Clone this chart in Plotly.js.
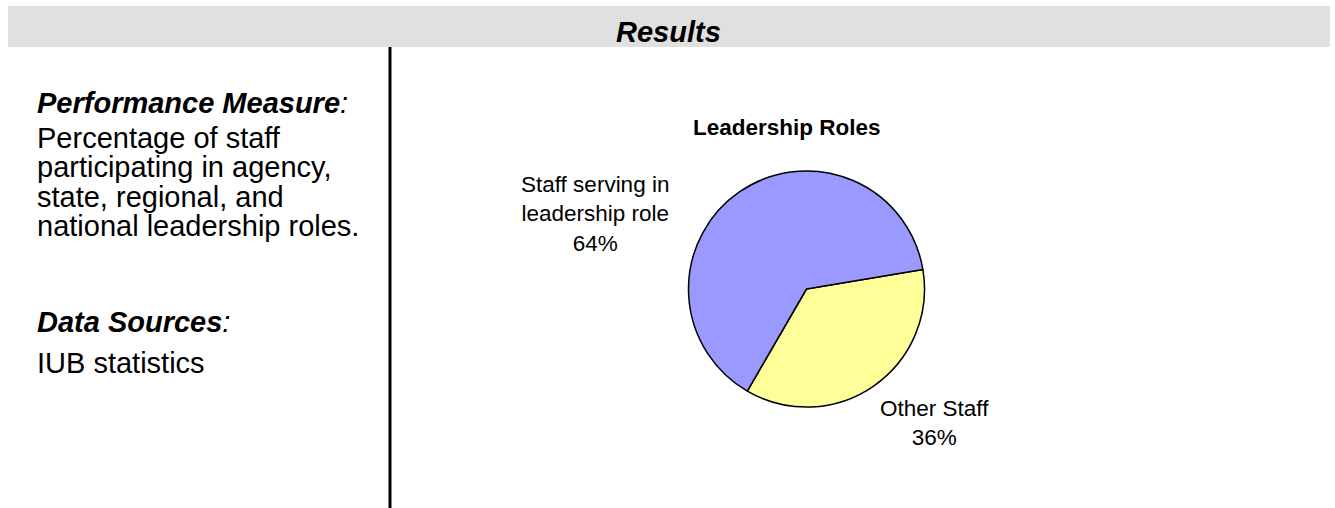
<!DOCTYPE html>
<html>
<head>
<meta charset="utf-8">
<script src="https://cdn.plot.ly/plotly-3.0.1.min.js"></script>
<style>
  html, body { margin: 0; padding: 0; background: #ffffff; }
  #chart { width: 1335px; height: 508px; }
</style>
</head>
<body>
<div id="chart"></div>
<script>
// ---- data ----
const categories = ['Other Staff', 'Staff serving in leadership role'];
const displayLabels = ['Other Staff', 'Staff serving in<br>leadership role'];
const values = [36, 64];
const sliceColors = ['#FFFF99', '#9999FF'];
const chartTitle = 'Leadership Roles';
const headerText = 'Results';
const measureHeading = 'Performance Measure';
const measureLines = ['Percentage of staff', 'participating in agency,', 'state, regional, and', 'national leadership roles.'];
const sourceHeading = 'Data Sources';
const sourceLines = ['IUB statistics'];

// ---- layout helpers (pixel -> paper) ----
const W = 1335, H = 508;
const px = x => x / W;
const py = y => 1 - y / H;
const FONT = 'Arial, "Liberation Sans", sans-serif';

const cx = 806.5, cy = 289, r = 118;

const trace = {
  type: 'pie',
  labels: categories,
  values: values,
  sort: false,
  direction: 'clockwise',
  rotation: 80.5,
  textinfo: 'none',
  hoverinfo: 'label+percent',
  marker: { colors: sliceColors, line: { color: '#000000', width: 1.5 } },
  domain: { x: [px(cx - r), px(cx + r)], y: [py(cy + r), py(cy - r)] },
  showlegend: false
};

const annotations = [];
function addText(text, x, y, size, xanchor, extra) {
  annotations.push(Object.assign({
    text: text, x: px(x), y: py(y), xref: 'paper', yref: 'paper',
    xanchor: xanchor, yanchor: 'middle', showarrow: false,
    font: { family: FONT, size: size, color: '#000000' }
  }, extra || {}));
}

// header
addText('<b><i>' + headerText + '</i></b>', 668, 32, 29, 'center');
// left panel
const LEFT = 35, LF = 29;
addText('<b><i>' + measureHeading + '</i></b><i>:</i>', LEFT, 103, LF, 'left');
const measureY = [138, 167, 197, 226];
measureLines.forEach((t, i) => addText(t, LEFT, measureY[i], LF, 'left'));
addText('<b><i>' + sourceHeading + '</i></b><i>:</i>', LEFT, 322, LF, 'left');
sourceLines.forEach((t, i) => addText(t, LEFT, 363 + i * 29.5, LF, 'left'));
// chart title
addText('<b>' + chartTitle + '</b>', 787, 127, 22.5, 'center');
// slice labels
const labelPos = [[934, 423], [595, 214]];
categories.forEach((c, i) => {
  addText(displayLabels[i] + '<br>' + values[i] + '%', labelPos[i][0], labelPos[i][1], 22.5, 'center');
});

const layout = {
  width: W, height: H,
  margin: { l: 0, r: 0, t: 0, b: 0 },
  paper_bgcolor: '#ffffff',
  plot_bgcolor: '#ffffff',
  shapes: [
    { type: 'rect', xref: 'paper', yref: 'paper', x0: px(8), x1: px(1330), y0: py(47), y1: py(6),
      fillcolor: '#e0e0e0', line: { width: 0 }, layer: 'below' },
    { type: 'line', xref: 'paper', yref: 'paper', x0: px(390), x1: px(390), y0: py(47), y1: py(508),
      line: { color: '#000000', width: 3 } }
  ],
  annotations: annotations
};

Plotly.newPlot('chart', [trace], layout, { displayModeBar: false, staticPlot: true });
</script>
</body>
</html>
